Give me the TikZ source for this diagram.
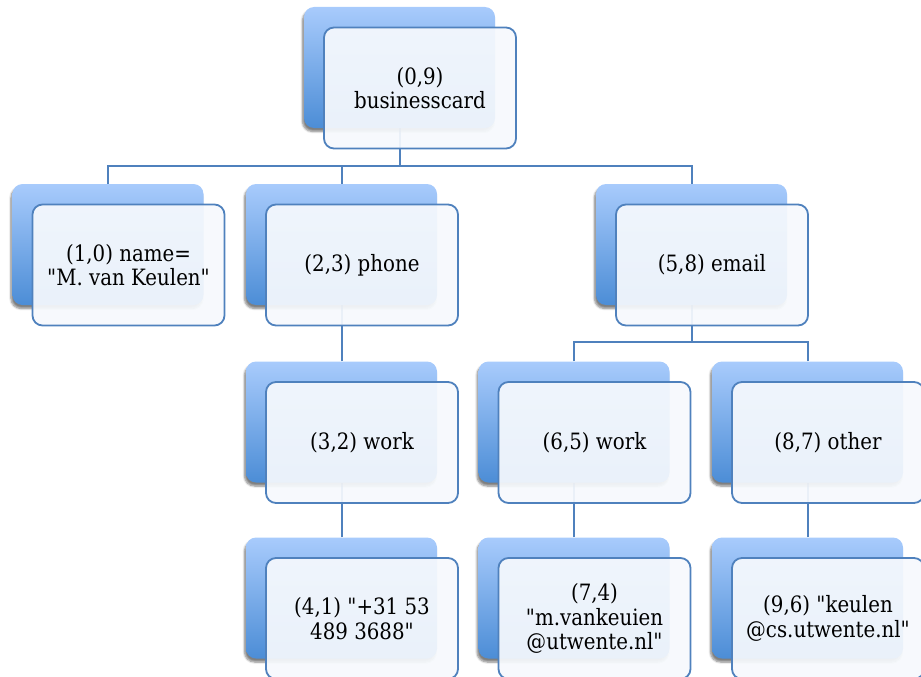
\documentclass[tikz,border=0pt]{standalone}
\usepackage{fontspec}
\setmainfont{DejaVu Serif}[Ligatures=TeXOff, FakeStretch=0.88]
\usetikzlibrary{shadows.blur}
\definecolor{linecol}{RGB}{79,129,189}
\definecolor{backtop}{RGB}{168,203,252}
\definecolor{backbot}{RGB}{76,141,214}
\definecolor{frontfill}{RGB}{246,249,253}
\begin{document}
\begin{tikzpicture}[x=1pt,y=-1pt,
 backbox/.style={rounded corners=10pt, minimum width=191pt, minimum height=121pt, inner sep=0pt,
   top color=backtop, bottom color=backbot, draw=none,
   blur shadow={shadow xshift=-1.5pt, shadow yshift=-3.5pt, shadow blur steps=6, shadow opacity=50}},
 frontbox/.style={rounded corners=10pt, minimum width=192pt, minimum height=121pt, inner sep=2pt,
   draw=linecol, line width=1.8pt, fill=frontfill, fill opacity=0.93, text opacity=1,
   align=center, font=\fontsize{22.5}{24.5}\selectfont},
 conn/.style={draw=linecol, line width=2pt}]
\useasboundingbox (0,0) rectangle (921,677);
\clip (0,0) rectangle (921,677);
% back box positions
\path (399.5,67.5) coordinate (p0);
\path (108,244.5) coordinate (p1);
\path (341.5,244.5) coordinate (p2);
\path (691.5,244.5) coordinate (p5);
\path (341.5,422) coordinate (p3);
\path (574,422) coordinate (p6);
\path (807.5,422) coordinate (p8);
\path (341.5,598) coordinate (p4);
\path (574,598) coordinate (p7);
\path (807.5,598) coordinate (p9);
% invisible back-box anchors for connectors
\foreach \i in {0,1,2,3,4,5,6,7,8,9}{
  \node[minimum width=191pt, minimum height=121pt, inner sep=0pt] (b\i) at (p\i) {};
}
% connectors
\draw[conn] (b1.north) -- ++(0,-18) -| (b0.south);
\draw[conn] (b2.north) -- ++(0,-18) -| (b0.south);
\draw[conn] (b5.north) -- ++(0,-18) -| (b0.south);
\draw[conn] (b3.north) -- (b2.south);
\draw[conn] (b4.north) -- (b3.south);
\draw[conn] (b6.north) -- ++(0,-19) -| (b5.south);
\draw[conn] (b8.north) -- ++(0,-19) -| (b5.south);
\draw[conn] (b7.north) -- (b6.south);
\draw[conn] (b9.north) -- (b8.south);
% boxes
\node[backbox] (k0) at (p0) {};
\node[frontbox] (f0) at ([shift={(20.5,20.5)}]p0) {(0,9)\\businesscard};
\node[backbox] (k1) at (p1) {};
\node[frontbox] (f1) at ([shift={(20.5,20.5)}]p1) {(1,0) name=\\"M. van Keulen"};
\node[backbox] (k2) at (p2) {};
\node[frontbox] (f2) at ([shift={(20.5,20.5)}]p2) {(2,3) phone};
\node[backbox] (k5) at (p5) {};
\node[frontbox] (f5) at ([shift={(20.5,20.5)}]p5) {(5,8) email};
\node[backbox] (k3) at (p3) {};
\node[frontbox] (f3) at ([shift={(20.5,20.5)}]p3) {(3,2) work};
\node[backbox] (k6) at (p6) {};
\node[frontbox] (f6) at ([shift={(20.5,20.5)}]p6) {(6,5) work};
\node[backbox] (k8) at (p8) {};
\node[frontbox] (f8) at ([shift={(20.5,20.5)}]p8) {(8,7) other};
\node[backbox] (k4) at (p4) {};
\node[frontbox] (f4) at ([shift={(20.5,20.5)}]p4) {(4,1) "+31 53\\489 3688"};
\node[backbox] (k7) at (p7) {};
\node[frontbox] (f7) at ([shift={(20.5,20.5)}]p7) {(7,4)\\"m.vankeuien\\@utwente.nl"};
\node[backbox] (k9) at (p9) {};
\node[frontbox] (f9) at ([shift={(20.5,20.5)}]p9) {(9,6) "keulen\\@cs.utwente.nl"};
\end{tikzpicture}
\end{document}
